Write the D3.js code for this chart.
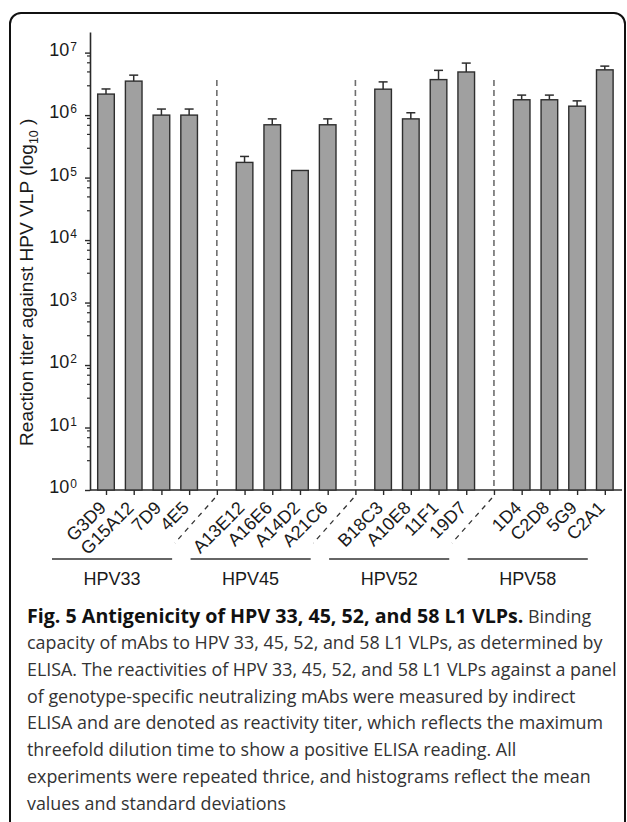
<!DOCTYPE html>
<html>
<head>
<meta charset="utf-8">
<script src="https://cdn.jsdelivr.net/npm/d3@7"></script>
<style>
body { margin: 0; background: #fff; }
svg text { font-family: "Liberation Sans", Arial, sans-serif; }
.caption text { font-family: "Open Sans", "Noto Sans", sans-serif; }
</style>
</head>
<body>
<div id="chart"></div>
<script>
var mabs = ["G3D9", "G15A12", "7D9", "4E5", "A13E12", "A16E6", "A14D2", "A21C6",
            "B18C3", "A10E8", "11F1", "19D7", "1D4", "C2D8", "5G9", "C2A1"];
var groupNames = ["HPV33", "HPV45", "HPV52", "HPV58"];
var groupSize = [4, 4, 4, 4];
var titerMean = [2.17e6, 3.5e6, 1.0e6, 1.0e6, 1.75e5, 7.0e5, 1.3e5, 7.0e5,
                 2.6e6, 8.7e5, 3.7e6, 4.9e6, 1.76e6, 1.76e6, 1.39e6, 5.3e6];
var titerSd = [0.45e6, 0.86e6, 0.25e6, 0.25e6, 0.43e5, 1.7e5, 0, 1.7e5,
               0.8e6, 2.2e5, 1.5e6, 1.9e6, 0.33e6, 0.33e6, 0.3e6, 0.78e6];
var yTickExp = [0, 1, 2, 3, 4, 5, 6, 7];
var yMinorMult = [3, 5, 7, 9];
var captionBold = "Fig. 5 Antigenicity of HPV 33, 45, 52, and 58 L1 VLPs.";
var captionLines = [
  " Binding",
  "capacity of mAbs to HPV 33, 45, 52, and 58 L1 VLPs, as determined by",
  "ELISA. The reactivities of HPV 33, 45, 52, and 58 L1 VLPs against a panel",
  "of genotype-specific neutralizing mAbs were measured by indirect",
  "ELISA and are denoted as reactivity titer, which reflects the maximum",
  "threefold dilution time to show a positive ELISA reading. All",
  "experiments were repeated thrice, and histograms reflect the mean",
  "values and standard deviations"
];

var width = 627, height = 822;
var svg = d3.select("#chart").append("svg")
    .attr("width", width)
    .attr("height", height);

// rounded frame of the figure panel
svg.append("rect")
    .attr("x", 10).attr("y", 13)
    .attr("width", 615).attr("height", 900)
    .attr("rx", 11)
    .attr("fill", "none")
    .attr("stroke", "#111")
    .attr("stroke-width", 2);

var margin = {left: 90, top: 32};
var plotH = 458;
var g = svg.append("g")
    .attr("transform", "translate(" + margin.left + "," + margin.top + ")");

// slots: bars plus one empty slot between groups
var slots = [], start = 0;
groupNames.forEach(function(name, i) {
  mabs.slice(start, start + groupSize[i]).forEach(function(m) { slots.push(m); });
  start += groupSize[i];
  if (i < groupNames.length - 1) slots.push("gap" + i);
});
var gaps = slots.filter(function(s) { return s.indexOf("gap") === 0; });

var x = d3.scalePoint().domain(slots).range([16, 514.8]);
var barW = x.step() * 0.6;
var y = d3.scaleLog().domain([1, Math.pow(10, 7.33)]).range([plotH, 0]);

var axisColor = "#2a2a2a";

// minor ticks
var minors = [];
yTickExp.forEach(function(e) {
  yMinorMult.forEach(function(k) {
    var v = k * Math.pow(10, e);
    if (v < y.domain()[1]) minors.push(v);
  });
});
var minorAxis = g.append("g")
    .call(d3.axisLeft(y).tickValues(minors).tickSize(3).tickFormat(""));
minorAxis.select(".domain").remove();
minorAxis.selectAll("line").attr("stroke", axisColor).attr("stroke-width", 1.2);

// major ticks with 10^n labels
var yAxis = g.append("g")
    .style("color", axisColor)
    .call(d3.axisLeft(y)
      .tickValues(yTickExp.map(function(e) { return Math.pow(10, e); }))
      .tickSize(5).tickSizeOuter(0).tickPadding(8));
yAxis.attr("font-size", 18);
yAxis.select(".domain").attr("stroke-width", 1.6);
yAxis.selectAll(".tick line").attr("stroke-width", 1.4);
yAxis.selectAll(".tick text")
    .attr("fill", "#1a1a1a")
    .attr("dy", "0.15em")
    .text(null)
    .each(function(d) {
      var t = d3.select(this);
      t.append("tspan").text("10");
      t.append("tspan").attr("dx", 1).attr("dy", -5).attr("font-size", 12)
        .text(Math.round(Math.log10(d)));
    });

// x axis
var xAxis = g.append("g")
    .attr("transform", "translate(0," + plotH + ")")
    .style("color", axisColor)
    .call(d3.axisBottom(x).tickSize(5).tickFormat(""));
xAxis.select(".domain").remove();
xAxis.selectAll(".tick line").attr("stroke-width", 1.4);
xAxis.append("line")
    .attr("x1", 0).attr("x2", 532)
    .attr("stroke", axisColor)
    .attr("stroke-width", 1.6);

// dashed separators between groups
g.selectAll(".sep")
    .data(gaps)
  .enter().append("line")
    .attr("class", "sep")
    .attr("x1", function(d) { return x(d); })
    .attr("x2", function(d) { return x(d); })
    .attr("y1", 48)
    .attr("y2", plotH)
    .attr("stroke", "#6e6e6e")
    .attr("stroke-width", 1.6)
    .attr("stroke-dasharray", "6,4");

g.selectAll(".sep-diag")
    .data(gaps)
  .enter().append("line")
    .attr("class", "sep-diag")
    .attr("x1", function(d) { return x(d) - 2; })
    .attr("y1", plotH + 8)
    .attr("x2", function(d) { return x(d) - 42; })
    .attr("y2", plotH + 53)
    .attr("stroke", "#333")
    .attr("stroke-width", 1.3)
    .attr("stroke-dasharray", "5,5");

// bars
g.selectAll(".bar")
    .data(mabs)
  .enter().append("rect")
    .attr("class", "bar")
    .attr("x", function(d) { return x(d) - barW / 2; })
    .attr("y", function(d, i) { return y(titerMean[i]); })
    .attr("width", barW)
    .attr("height", function(d, i) { return plotH - y(titerMean[i]); })
    .attr("fill", "#a0a0a0")
    .attr("stroke", "#2e2e2e")
    .attr("stroke-width", 1.4);

// error bars (upper only)
var err = g.selectAll(".err")
    .data(mabs.filter(function(d, i) { return titerSd[i] > 0; }))
  .enter().append("g")
    .attr("class", "err")
    .attr("stroke", "#2e2e2e")
    .attr("stroke-width", 1.5);
err.append("line")
    .attr("x1", function(d) { return x(d); })
    .attr("x2", function(d) { return x(d); })
    .attr("y1", function(d) { var i = mabs.indexOf(d); return y(titerMean[i]); })
    .attr("y2", function(d) { var i = mabs.indexOf(d); return y(titerMean[i] + titerSd[i]); });
err.append("line")
    .attr("x1", function(d) { return x(d) - 4.5; })
    .attr("x2", function(d) { return x(d) + 4.5; })
    .attr("y1", function(d) { var i = mabs.indexOf(d); return y(titerMean[i] + titerSd[i]); })
    .attr("y2", function(d) { var i = mabs.indexOf(d); return y(titerMean[i] + titerSd[i]); });

// rotated category labels
g.selectAll(".xlab")
    .data(mabs)
  .enter().append("text")
    .attr("class", "xlab")
    .attr("transform", function(d) {
      return "translate(" + (x(d) - 8) + "," + (plotH + 10) + ") rotate(-45)";
    })
    .attr("text-anchor", "end")
    .attr("dy", "0.71em")
    .attr("font-size", 18)
    .attr("fill", "#1a1a1a")
    .text(function(d) { return d; });

// group brackets
var gi = 0;
groupNames.forEach(function(name, i) {
  var first = mabs[gi], last = mabs[gi + groupSize[i] - 1];
  gi += groupSize[i];
  var x0 = x(first) - 54, x1 = x(last) - 17;
  g.append("line")
      .attr("x1", x0).attr("x2", x1)
      .attr("y1", 527).attr("y2", 527)
      .attr("stroke", "#333")
      .attr("stroke-width", 1.6);
  g.append("text")
      .attr("x", (x0 + x1) / 2)
      .attr("y", 553)
      .attr("text-anchor", "middle")
      .attr("font-size", 18)
      .attr("fill", "#1a1a1a")
      .text(name);
});

// y axis title, sized to span the same length as the original
var yTitle = svg.append("text")
    .attr("transform", "translate(33,446) rotate(-90)")
    .attr("font-size", 18)
    .attr("fill", "#1a1a1a");
yTitle.append("tspan").text("Reaction titer against HPV VLP (log");
yTitle.append("tspan").attr("class", "sub").attr("dy", 5).attr("font-size", 12).text("10");
yTitle.append("tspan").attr("dy", -5).text(" )");
var tLen = yTitle.node().getComputedTextLength();
var tFs = 18 * 328 / tLen;
yTitle.attr("font-size", tFs);
yTitle.select(".sub").attr("font-size", tFs * 0.65);

// caption
var cap = svg.append("g").attr("class", "caption");
var fs = 17;
var probe = cap.append("text").attr("font-size", fs).text(captionLines[2]);
fs = fs * 590 / probe.node().getComputedTextLength();
probe.text(captionBold).attr("font-weight", "bold");
var fsBold = 17 * 497 / probe.node().getComputedTextLength();
probe.remove();

var firstLine = cap.append("text")
    .attr("x", 27).attr("y", 622.6)
    .attr("font-size", fs);
firstLine.append("tspan").attr("font-weight", "bold").attr("font-size", fsBold)
    .attr("fill", "#111").text(captionBold);
firstLine.append("tspan").attr("fill", "#333").text(captionLines[0]);

cap.selectAll(".cl")
    .data(captionLines.slice(1))
  .enter().append("text")
    .attr("class", "cl")
    .attr("x", 27)
    .attr("y", function(d, i) { return 622.6 + (i + 1) * 26.7; })
    .attr("font-size", fs)
    .attr("fill", "#333")
    .text(function(d) { return d; });
</script>
</body>
</html>
